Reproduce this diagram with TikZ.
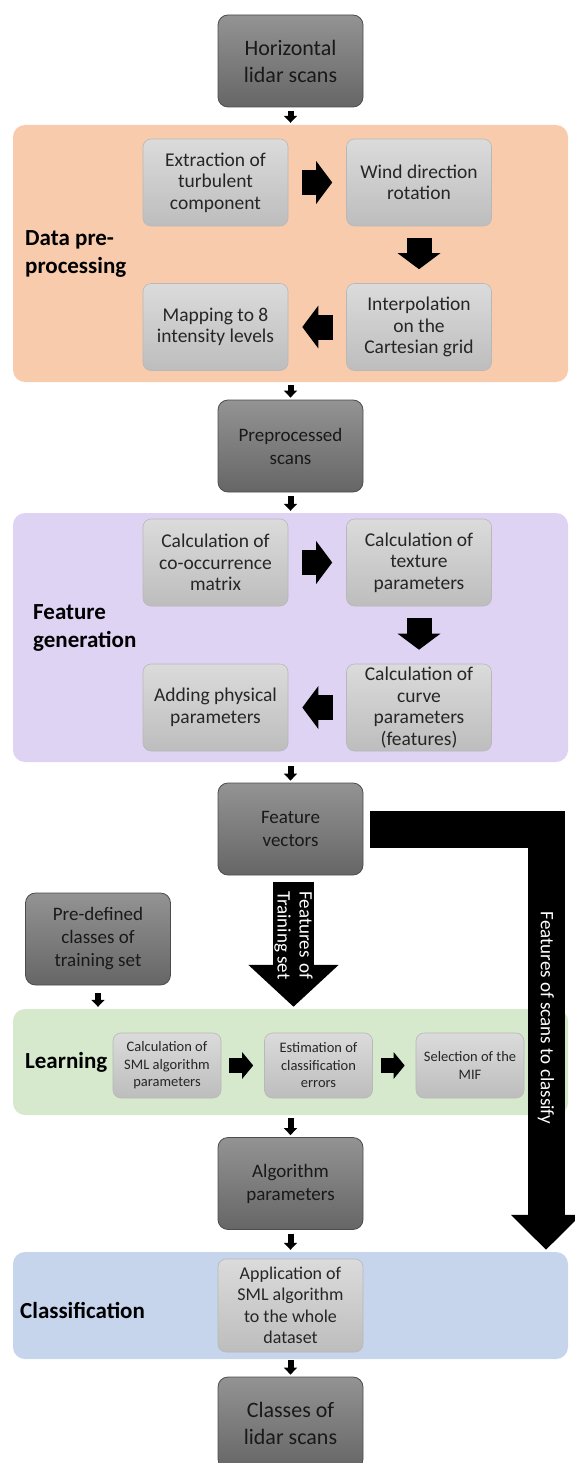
\documentclass[tikz,border=0pt]{standalone}
\usepackage{fontspec}
\usepackage{calc}
\setmainfont{Carlito}
\usetikzlibrary{arrows.meta}

\definecolor{orangeP}{HTML}{F8CBAD}
\definecolor{purpleP}{HTML}{DFD3F4}
\definecolor{greenP}{HTML}{D6E9CD}
\definecolor{blueP}{HTML}{C6D4EC}
\definecolor{mainTop}{HTML}{939393}
\definecolor{mainBot}{HTML}{666666}
\definecolor{stepTop}{HTML}{DBDBDB}
\definecolor{stepBot}{HTML}{BDBDBD}

\tikzset{
  mainbox/.style={rounded corners=10pt, draw=black!70, line width=0.8pt,
    top color=mainTop, bottom color=mainBot, minimum width=145pt,
    minimum height=92pt, inner sep=0pt, align=center, text=black!90,
    font=\fontsize{19}{23}\selectfont},
  bigtext/.style={font=\fontsize{22}{27}\selectfont},
  stepbox/.style={rounded corners=8pt, draw=black!28, line width=0.6pt,
    top color=stepTop, bottom color=stepBot, minimum width=145pt,
    minimum height=87pt, inner sep=0pt, align=center, text=black!85,
    font=\fontsize{19.5}{21.5}\selectfont},
  smallstep/.style={stepbox, minimum width=108pt, minimum height=65pt,
    font=\fontsize{14.5}{17.5}\selectfont},
  panel/.style={rounded corners=12pt, minimum width=555pt, inner sep=0pt},
  grouplabel/.style={anchor=west, align=left, inner sep=0pt,
    font=\bfseries\fontsize{23}{28}\selectfont},
  smallarrow/.style={line width=6pt, -{Triangle[width=13pt,length=7pt]},
    shorten <=4pt, shorten >=2pt},
  blockarrow/.style={line width=25pt, -{Triangle[width=42pt,length=16pt]},
    shorten <=14pt, shorten >=14pt},
  thinblock/.style={line width=15pt, -{Triangle[width=26pt,length=11pt]},
    shorten <=8pt, shorten >=11pt},
  bigarrow/.style={line width=37pt, line join=miter,
    -{Triangle[width=68pt,length=35pt]}, shorten >=2pt},
  arrowtext/.style={text=white, rotate=-90, inner sep=0pt, align=center,
    font=\fontsize{19}{22}\selectfont}
}

\begin{document}
\begin{tikzpicture}[x=1pt, y=-1pt]
  \useasboundingbox (0,0) rectangle (575,1463);

  % coloured group panels
  \node[panel, fill=orangeP, minimum height=257pt] (prePanel) at (290.5,253.5) {};
  \node[panel, fill=purpleP, minimum height=249pt] (featPanel) at (290.5,637.5) {};
  \node[panel, fill=greenP, minimum height=106pt] (learnPanel) at (290.5,1062) {};
  \node[panel, fill=blueP, minimum height=107pt] (clsPanel) at (290.5,1305.5) {};

  % group labels
  \node[grouplabel] (preLabel) at (25,254) {Data pre-\\processing};
  \node[grouplabel] (featLabel) at (33,628) {Feature\\generation};
  \node[grouplabel] (learnLabel) at (25,1062) {Learning};
  \node[grouplabel] (clsLabel) at (20,1310) {Classification};

  % main column
  \node[mainbox, bigtext] (hls) at (290.5,61) {Horizontal\\lidar scans};
  \node[mainbox] (ppscans) at (290.5,446) {Preprocessed\\scans};
  \node[mainbox] (fvec) at (290.5,829) {Feature\\vectors};
  \node[mainbox] (predef) at (98,939) {Pre-defined\\classes of\\training set};
  \node[mainbox] (algpar) at (290.5,1183.5) {Algorithm\\parameters};
  \node[mainbox, bigtext] (classes) at (290.5,1423) {Classes of\\lidar scans};

  % data pre-processing steps
  \node[stepbox] (extr) at (215.5,182.5) {Extraction of\\turbulent\\component};
  \node[stepbox] (wind) at (419,182.5) {Wind direction\\rotation};
  \node[stepbox] (interp) at (419,327) {Interpolation\\on the\\Cartesian grid};
  \node[stepbox] (mapint) at (215.5,327) {Mapping to 8\\intensity levels};

  % feature generation steps
  \node[stepbox] (cooc) at (215.5,562.5) {Calculation of\\co-occurrence\\matrix};
  \node[stepbox] (texture) at (419,562.5) {Calculation of\\texture\\parameters};
  \node[stepbox] (curve) at (419,707.5) {Calculation of\\curve\\parameters\\(features)};
  \node[stepbox] (addphys) at (215.5,707.5) {Adding physical\\parameters};

  % learning steps
  \node[smallstep] (sml) at (167,1065.5) {Calculation of\\SML algorithm\\parameters};
  \node[smallstep] (esterr) at (318.5,1065.5) {Estimation of\\classification\\errors};
  \node[smallstep] (selmif) at (470,1065.5) {Selection of the\\MIF};

  % classification step
  \node[stepbox, minimum height=93pt, font=\fontsize{18}{21.5}\selectfont] (applic)
    at (290.5,1305.5) {Application of\\SML algorithm\\to the whole\\dataset};

  % arrows inside the panels
  \draw[blockarrow] (extr) -- (wind);
  \draw[blockarrow, shorten <=12pt] (wind) -- (interp);
  \draw[blockarrow, shorten <=13pt] (interp) -- (mapint);
  \draw[blockarrow] (cooc) -- (texture);
  \draw[blockarrow, shorten <=12pt] (texture) -- (curve);
  \draw[blockarrow, shorten <=13pt] (curve) -- (addphys);
  \draw[thinblock] (sml) -- (esterr);
  \draw[thinblock] (esterr) -- (selmif);

  % small arrows between stages
  \draw[smallarrow] (hls) -- (prePanel);
  \draw[smallarrow, shorten <=3pt] (prePanel) -- (ppscans);
  \draw[smallarrow] (ppscans) -- (featPanel);
  \draw[smallarrow] (featPanel) -- (fvec);
  \draw[smallarrow, shorten <=8pt] (predef.south) -- (predef.south |- learnPanel.north);
  \draw[smallarrow, shorten <=3pt] (learnPanel) -- (algpar);
  \draw[smallarrow] (algpar) -- (clsPanel);
  \draw[smallarrow, shorten <=1pt] (clsPanel) -- (classes);

  % big feature arrows
  \coordinate (bend) at (546,829);
  \draw[bigarrow] ([xshift=7pt]fvec.east) -| (bend |- clsPanel.north);
  \node[arrowtext] (scanText) at (546,1018) {Features of scans to classify};
  \draw[bigarrow, line width=41pt, -{Triangle[width=88pt,length=42pt]},
    shorten <=7pt] ([xshift=3pt]fvec.south) -- ([xshift=3pt]fvec.south |- learnPanel.north)
    node[arrowtext, pos=0.45] (trainText)
    {\makebox[\widthof{Training set}][s]{Features of}\\Training set};
\end{tikzpicture}
\end{document}
